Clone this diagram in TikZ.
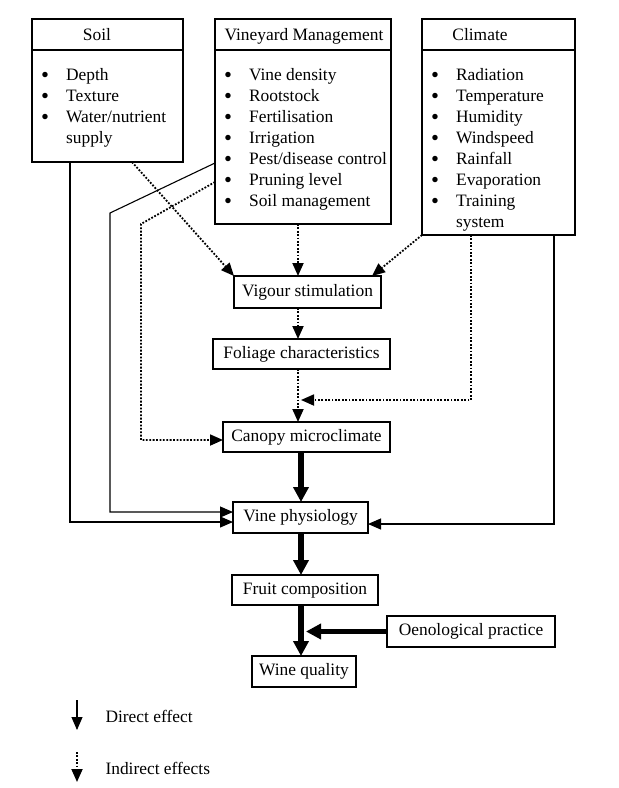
\documentclass[tikz,border=0pt]{standalone}
\usepackage{fontspec}
\usepackage{graphicx}
\setmainfont{Liberation Serif}
\usetikzlibrary{arrows.meta,calc}
\newcommand\vbul{\smash{\raisebox{-2.6pt}{\scalebox{1.3}{\textbullet}}}}
\begin{document}
\begin{tikzpicture}[x=1pt,y=-1pt,
  every node/.style={font=\fontsize{17.4}{21}\selectfont},
  frame/.style={draw, line width=1.1pt, inner sep=0pt, outer sep=0pt},
  stage/.style={frame, text height=12pt, text depth=4pt},
  title/.style={anchor=base, inner sep=0pt},
  solidarrow/.style={line width=1.1pt, -{Triangle[length=13pt,width=11pt]}},
  dotline/.style={line width=1.8pt, dash pattern=on 1.8pt off 1.6pt},
  dotarrow/.style={dotline, -{Triangle[length=13pt,width=11pt]}},
  bigarrow/.style={line width=5.5pt, -{Triangle[length=15pt,width=15pt]}},
  list/.style={anchor=base west, inner sep=0pt}
]
\fill[white] (0,0) rectangle (619,788);
\useasboundingbox (0,0) rectangle (619,788);

% header boxes
\node[frame, minimum width=151pt, minimum height=31pt] (soilT) at (107.5,34.5) {};
\node[frame, minimum width=151pt, minimum height=112pt] (soilB) at (107.5,106) {};
\node[frame, minimum width=176pt, minimum height=31pt] (vmT) at (303,34.5) {};
\node[frame, minimum width=176pt, minimum height=174pt] (vmB) at (303,137) {};
\node[frame, minimum width=153pt, minimum height=31pt] (climT) at (498.5,34.5) {};
\node[frame, minimum width=153pt, minimum height=185pt] (climB) at (498.5,142.5) {};

\node[title] (soilTt) at (97,40.5) {Soil};
\node[title] (vmTt) at (304,40.5) {Vineyard Management};
\node[title] (climTt) at (480,40.5) {Climate};

\node[list] (soilL) at (41,80) {\begin{tabular}[t]{@{}l@{\hspace{17pt}}l@{}}
\vbul & Depth\\ \vbul & Texture\\ \vbul & Water/nutrient\\ & supply\end{tabular}};
\node[list] (vmL) at (224,80) {\begin{tabular}[t]{@{}l@{\hspace{17pt}}l@{}}
\vbul & Vine density\\ \vbul & Rootstock\\ \vbul & Fertilisation\\ \vbul & Irrigation\\
\vbul & Pest/disease control\\ \vbul & Pruning level\\ \vbul & Soil management\end{tabular}};
\node[list] (climL) at (431,80) {\begin{tabular}[t]{@{}l@{\hspace{17pt}}l@{}}
\vbul & Radiation\\ \vbul & Temperature\\ \vbul & Humidity\\ \vbul & Windspeed\\
\vbul & Rainfall\\ \vbul & Evaporation\\ \vbul & Training\\ & system\end{tabular}};

% stage boxes
\node[stage, minimum width=147pt, minimum height=32pt] (vig) at (307.5,292) {Vigour stimulation};
\node[stage, minimum width=177pt, minimum height=30pt] (fol) at (301.5,354) {Foliage characteristics};
\node[stage, minimum width=167pt, minimum height=30pt] (cp) at (306.5,437) {Canopy microclimate};
\node[stage, minimum width=135pt, minimum height=31pt] (vp) at (300.5,517.5) {Vine physiology};
\node[stage, minimum width=146pt, minimum height=30pt] (fc) at (305,590) {Fruit composition};
\node[stage, minimum width=168pt, minimum height=31pt] (oe) at (471,631.5) {Oenological practice};
\node[stage, minimum width=104pt, minimum height=31pt] (wq) at (304,671.5) {Wine quality};

% helper coordinates
\coordinate (sp) at (298,0);
\coordinate (tp) at (301,0);
\coordinate (tq) at (306,0);
\coordinate (w1) at (110,213);
\coordinate (w2) at (141,224);
\coordinate (j1) at (301,400);
\coordinate (vpA) at ([yshift=5.5pt]vp.west);
\coordinate (vpB) at ([yshift=-4.5pt]vp.west);
\coordinate (vpC) at ([yshift=-6.5pt]vp.east);
\coordinate (cpA) at ([yshift=-3pt]cp.west);

% indirect (dotted) effects
\draw[dotarrow] ([xshift=100pt]soilB.south west) -- (vig.north west);
\draw[dotarrow] (vmB.south -| sp) -- (vig.north -| sp);
\draw[dotarrow] (climB.south west) -- ([xshift=-9pt]vig.north east);
\draw[dotarrow] (vig.south -| sp) -- (fol.north -| sp);
\draw[dotarrow] (fol.south -| sp) -- (cp.north -| sp);
\draw[dotarrow] ([xshift=49pt]climB.south west) |- (j1);
\draw[dotarrow] ([yshift=42pt]vmB.south west) -- (w2) -- (w2 |- cpA) -- (cpA);

% direct effects
\draw[solidarrow] ([yshift=61pt]vmB.south west) -- (w1) -- (w1 |- vpA) -- (vpA);
\draw[solidarrow] ([xshift=38pt]soilB.south west) |- (vpB);
\draw[solidarrow] ([xshift=-21pt]climB.south east) |- (vpC);

\draw[bigarrow] (cp.south -| tp) -- (vp.north -| tp);
\draw[bigarrow] (vp.south -| tp) -- (fc.north -| tp);
\draw[bigarrow] (fc.south -| tp) -- (wq.north -| tp);
\draw[bigarrow] (oe.west) -- (oe.west -| tq);

% legend
\coordinate (ld1) at (77,700);
\coordinate (ld2) at (77,730);
\coordinate (li1) at (77,752);
\coordinate (li2) at (77,782);
\draw[solidarrow] (ld1) -- (ld2);
\draw[dotarrow] (li1) -- (li2);
\node[anchor=west] (ldt) at (102,716) {Direct effect};
\node[anchor=west] (lit) at (102,768) {Indirect effects};
\end{tikzpicture}
\end{document}
